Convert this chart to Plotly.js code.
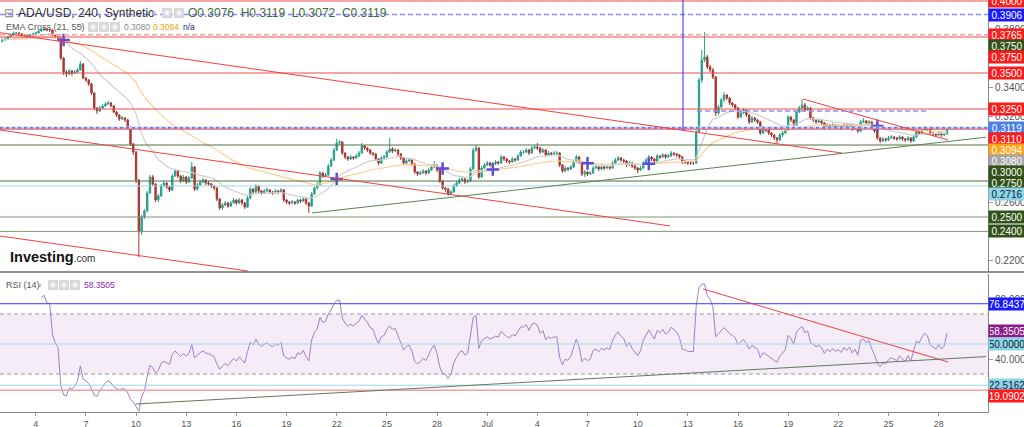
<!DOCTYPE html>
<html><head><meta charset="utf-8">
<script src="https://cdn.plot.ly/plotly-3.0.1.min.js"></script>
<style>html,body{margin:0;padding:0;background:#fff;overflow:hidden}#chart{width:1024px;height:427px}</style>
</head><body><div id="chart"></div>
<script>
// ---------------- DATA (ADA/USD, 4h candles) ----------------
const startTime = Date.UTC(2023, 5, 2, 0, 0, 0);   // first candle: 2 Jun 2023 00:00
const barHours = 4;
const firstOpen = 0.3720;
const closes = [
0.3729,0.3736,0.3750,0.3764,0.3778,0.3778,0.3771,0.3764,0.3764,0.3757,
0.3764,0.3771,0.3778,0.3792,0.3799,0.3806,0.3799,0.3799,0.3764,0.3750,
0.3743,0.3604,0.3507,0.3493,0.3514,0.3500,0.3507,0.3521,0.3563,0.3465,
0.3451,0.3424,0.3361,0.3257,0.3236,0.3257,0.3271,0.3285,0.3292,0.3271,
0.3229,0.3208,0.3181,0.3188,0.3174,0.3125,0.3007,0.2951,0.2757,0.2396,
0.2500,0.2542,0.2667,0.2778,0.2729,0.2618,0.2646,0.2715,0.2736,0.2708,
0.2688,0.2785,0.2819,0.2785,0.2750,0.2778,0.2743,0.2771,0.2847,0.2694,
0.2722,0.2743,0.2757,0.2736,0.2729,0.2715,0.2701,0.2625,0.2563,0.2583,
0.2597,0.2576,0.2597,0.2618,0.2597,0.2618,0.2597,0.2569,0.2632,0.2694,
0.2674,0.2715,0.2681,0.2667,0.2681,0.2688,0.2674,0.2667,0.2681,0.2674,
0.2688,0.2618,0.2604,0.2597,0.2604,0.2597,0.2618,0.2611,0.2625,0.2597,
0.2576,0.2660,0.2701,0.2722,0.2806,0.2785,0.2792,0.2854,0.2896,0.2965,
0.3014,0.3021,0.2944,0.2917,0.2903,0.2917,0.2910,0.2924,0.2944,0.2993,
0.2979,0.2965,0.2944,0.2938,0.2903,0.2875,0.2910,0.2917,0.2951,0.2972,
0.2958,0.2965,0.2938,0.2910,0.2875,0.2889,0.2896,0.2868,0.2813,0.2799,
0.2806,0.2819,0.2806,0.2826,0.2847,0.2861,0.2826,0.2750,0.2701,0.2694,
0.2660,0.2674,0.2715,0.2736,0.2757,0.2764,0.2743,0.2750,0.2833,0.2965,
0.2979,0.2778,0.2840,0.2861,0.2875,0.2861,0.2868,0.2882,0.2875,0.2917,
0.2903,0.2889,0.2882,0.2903,0.2896,0.2924,0.2951,0.2951,0.2965,0.2944,
0.2979,0.2986,0.2979,0.2951,0.2965,0.2931,0.2944,0.2938,0.2944,0.2944,
0.2861,0.2819,0.2840,0.2833,0.2847,0.2882,0.2917,0.2882,0.2799,0.2813,
0.2799,0.2806,0.2840,0.2847,0.2833,0.2847,0.2840,0.2847,0.2840,0.2875,
0.2896,0.2910,0.2896,0.2889,0.2861,0.2875,0.2854,0.2840,0.2826,0.2840,
0.2875,0.2896,0.2917,0.2903,0.2889,0.2924,0.2917,0.2931,0.2917,0.2924,
0.2944,0.2938,0.2931,0.2917,0.2882,0.2882,0.2875,0.2875,0.2875,0.3090,
0.3451,0.3590,0.3611,0.3542,0.3521,0.3472,0.3222,0.3264,0.3313,0.3347,
0.3326,0.3292,0.3278,0.3257,0.3194,0.3222,0.3243,0.3208,0.3160,0.3188,
0.3174,0.3160,0.3083,0.3118,0.3104,0.3083,0.3069,0.3049,0.3035,0.3069,
0.3083,0.3104,0.3194,0.3174,0.3139,0.3229,0.3257,0.3278,0.3243,0.3257,
0.3188,0.3174,0.3160,0.3167,0.3153,0.3118,0.3139,0.3125,0.3139,0.3125,
0.3132,0.3118,0.3139,0.3125,0.3139,0.3111,0.3125,0.3097,0.3160,0.3167,
0.3153,0.3160,0.3125,0.3097,0.3049,0.3028,0.3042,0.3035,0.3049,0.3056,
0.3049,0.3042,0.3056,0.3042,0.3035,0.3049,0.3028,0.3056,0.3090,0.3083,
0.3104,0.3118,0.3111,0.3083,0.3076,0.3069,0.3083,0.3069,0.3076,0.3119];
const highs = [
0.3741,0.3745,0.3757,0.3771,0.3788,0.3785,0.3784,0.3778,0.3772,0.3770,
0.3771,0.3780,0.3786,0.3800,0.3808,0.3818,0.3812,0.3806,0.3803,0.3771,
0.3757,0.3750,0.3611,0.3521,0.3528,0.3521,0.3521,0.3535,0.3583,0.3569,
0.3472,0.3458,0.3431,0.3368,0.3264,0.3271,0.3285,0.3299,0.3306,0.3299,
0.3278,0.3236,0.3215,0.3201,0.3194,0.3181,0.3132,0.3014,0.2958,0.2764,
0.2514,0.2556,0.2681,0.2792,0.2792,0.2736,0.2660,0.2729,0.2750,0.2743,
0.2715,0.2799,0.2833,0.2826,0.2792,0.2792,0.2785,0.2785,0.2882,0.2854,
0.2736,0.2757,0.2771,0.2764,0.2750,0.2736,0.2722,0.2708,0.2632,0.2597,
0.2611,0.2604,0.2611,0.2632,0.2625,0.2632,0.2625,0.2604,0.2646,0.2708,
0.2701,0.2729,0.2722,0.2688,0.2694,0.2701,0.2694,0.2681,0.2694,0.2688,
0.2701,0.2694,0.2625,0.2611,0.2618,0.2611,0.2625,0.2625,0.2639,0.2632,
0.2604,0.2674,0.2715,0.2743,0.2820,0.2813,0.2806,0.2868,0.2910,0.2979,
0.3042,0.3035,0.3028,0.2951,0.2924,0.2931,0.2924,0.2938,0.2958,0.3014,
0.3000,0.2986,0.2972,0.2951,0.2944,0.2910,0.2924,0.2931,0.2965,0.3049,
0.2986,0.2979,0.2972,0.2944,0.2917,0.2903,0.2910,0.2903,0.2875,0.2820,
0.2820,0.2833,0.2826,0.2840,0.2861,0.2889,0.2868,0.2833,0.2757,0.2708,
0.2701,0.2688,0.2729,0.2750,0.2771,0.2778,0.2771,0.2764,0.2847,0.2979,
0.3000,0.2986,0.2854,0.2875,0.2889,0.2882,0.2882,0.2896,0.2889,0.2931,
0.2924,0.2910,0.2896,0.2917,0.2910,0.2938,0.2965,0.2965,0.2979,0.2972,
0.2993,0.3000,0.3014,0.2986,0.2979,0.2972,0.2958,0.2951,0.2958,0.2958,
0.2951,0.2868,0.2854,0.2847,0.2861,0.2896,0.2931,0.2924,0.2889,0.2826,
0.2820,0.2820,0.2854,0.2861,0.2854,0.2861,0.2854,0.2861,0.2854,0.2889,
0.2910,0.2924,0.2917,0.2903,0.2896,0.2889,0.2882,0.2861,0.2847,0.2854,
0.2889,0.2910,0.2931,0.2924,0.2910,0.2938,0.2931,0.2944,0.2938,0.2938,
0.2958,0.2951,0.2944,0.2938,0.2924,0.2896,0.2889,0.2889,0.2889,0.3104,
0.3465,0.3660,0.3785,0.3625,0.3556,0.3535,0.3479,0.3278,0.3326,0.3368,
0.3354,0.3333,0.3299,0.3285,0.3264,0.3236,0.3257,0.3250,0.3215,0.3201,
0.3194,0.3181,0.3167,0.3132,0.3125,0.3111,0.3090,0.3076,0.3056,0.3083,
0.3097,0.3118,0.3208,0.3201,0.3181,0.3243,0.3271,0.3319,0.3292,0.3271,
0.3264,0.3194,0.3181,0.3181,0.3174,0.3160,0.3153,0.3146,0.3153,0.3146,
0.3146,0.3139,0.3153,0.3146,0.3153,0.3146,0.3139,0.3132,0.3174,0.3188,
0.3174,0.3174,0.3167,0.3132,0.3104,0.3056,0.3056,0.3049,0.3063,0.3069,
0.3063,0.3056,0.3069,0.3063,0.3049,0.3063,0.3056,0.3069,0.3104,0.3104,
0.3118,0.3132,0.3125,0.3118,0.3090,0.3083,0.3097,0.3090,0.3083,0.3119];
const lows = [
0.3712,0.3722,0.3731,0.3745,0.3757,0.3768,0.3764,0.3757,0.3752,0.3748,
0.3750,0.3757,0.3765,0.3772,0.3786,0.3792,0.3790,0.3785,0.3757,0.3740,
0.3731,0.3590,0.3486,0.3472,0.3486,0.3479,0.3493,0.3500,0.3514,0.3458,
0.3438,0.3410,0.3347,0.3243,0.3215,0.3229,0.3250,0.3264,0.3278,0.3264,
0.3222,0.3194,0.3167,0.3174,0.3160,0.3111,0.2993,0.2931,0.2736,0.2222,
0.2375,0.2486,0.2535,0.2660,0.2715,0.2604,0.2604,0.2639,0.2708,0.2694,
0.2674,0.2681,0.2778,0.2771,0.2736,0.2743,0.2729,0.2736,0.2764,0.2681,
0.2681,0.2715,0.2736,0.2722,0.2715,0.2701,0.2688,0.2611,0.2549,0.2549,
0.2576,0.2563,0.2569,0.2590,0.2583,0.2590,0.2583,0.2556,0.2563,0.2625,
0.2660,0.2667,0.2667,0.2653,0.2660,0.2674,0.2660,0.2653,0.2660,0.2660,
0.2667,0.2604,0.2590,0.2583,0.2590,0.2583,0.2590,0.2597,0.2604,0.2583,
0.2528,0.2569,0.2653,0.2694,0.2715,0.2771,0.2778,0.2785,0.2847,0.2889,
0.2958,0.3000,0.2931,0.2903,0.2889,0.2896,0.2896,0.2903,0.2917,0.2938,
0.2965,0.2951,0.2931,0.2924,0.2889,0.2861,0.2868,0.2903,0.2910,0.2944,
0.2944,0.2951,0.2924,0.2896,0.2861,0.2868,0.2882,0.2854,0.2799,0.2785,
0.2792,0.2799,0.2792,0.2799,0.2819,0.2840,0.2813,0.2736,0.2688,0.2674,
0.2646,0.2653,0.2667,0.2708,0.2729,0.2750,0.2729,0.2736,0.2743,0.2826,
0.2951,0.2764,0.2771,0.2833,0.2854,0.2847,0.2854,0.2861,0.2861,0.2868,
0.2889,0.2875,0.2868,0.2875,0.2882,0.2889,0.2917,0.2938,0.2944,0.2931,
0.2938,0.2972,0.2965,0.2938,0.2944,0.2917,0.2924,0.2924,0.2931,0.2931,
0.2847,0.2806,0.2813,0.2819,0.2826,0.2840,0.2875,0.2868,0.2785,0.2778,
0.2785,0.2792,0.2799,0.2833,0.2819,0.2826,0.2826,0.2833,0.2826,0.2833,
0.2868,0.2889,0.2882,0.2875,0.2847,0.2854,0.2840,0.2826,0.2806,0.2819,
0.2833,0.2868,0.2889,0.2889,0.2875,0.2882,0.2903,0.2910,0.2903,0.2910,
0.2917,0.2924,0.2917,0.2903,0.2868,0.2868,0.2861,0.2861,0.2861,0.2868,
0.3083,0.3431,0.3576,0.3528,0.3507,0.3458,0.3201,0.3208,0.3257,0.3299,
0.3313,0.3278,0.3264,0.3243,0.3181,0.3188,0.3215,0.3194,0.3146,0.3153,
0.3160,0.3146,0.3069,0.3076,0.3090,0.3069,0.3056,0.3035,0.3014,0.3028,
0.3056,0.3076,0.3097,0.3160,0.3125,0.3132,0.3222,0.3250,0.3229,0.3236,
0.3174,0.3160,0.3146,0.3153,0.3139,0.3104,0.3111,0.3111,0.3118,0.3111,
0.3118,0.3104,0.3111,0.3111,0.3118,0.3097,0.3104,0.3083,0.3090,0.3153,
0.3139,0.3146,0.3111,0.3083,0.3035,0.3014,0.3021,0.3021,0.3028,0.3042,
0.3035,0.3028,0.3035,0.3028,0.3021,0.3028,0.3014,0.3021,0.3049,0.3069,
0.3076,0.3097,0.3097,0.3069,0.3063,0.3056,0.3063,0.3056,0.3063,0.3072];

// x-axis ticks
const xTickDates = ['2023-06-04','2023-06-07','2023-06-10','2023-06-13','2023-06-16','2023-06-19','2023-06-22','2023-06-25','2023-06-28','2023-07-01','2023-07-04','2023-07-07','2023-07-10','2023-07-13','2023-07-16','2023-07-19','2023-07-22','2023-07-25','2023-07-28'];
const xTickText = ['4','7','10','13','16','19','22','25','28','Jul','4','7','10','13','16','19','22','25','28'];
const priceTicks = [0.22,0.24,0.26,0.28,0.30,0.32,0.34,0.36,0.38,0.40];
const rsiTicks = [20,40,60,80];

// horizontal price levels drawn on the chart
const levelValues = [0.4000,0.3906,0.3765,0.3750,0.3500,0.3250,0.3110,0.3119,0.3000,0.2750,0.2716,0.2500,0.2400];
const rsiLevelValues = [76.8437,50,22.5162,19.0902];
// right-axis value tags
const tagValues = [0.4000,0.3906,0.3765,0.3750,0.3750,0.3500,0.3250,0.3119,0.3110,0.3094,0.3080,0.3000,0.2750,0.2716,0.2500,0.2400];
const rsiTagValues = [76.8437,58.3505,50.0000,22.5162,19.0902];

// drawn trend lines (date, price) endpoints
const trendStartDates = ['2023-06-01 20:42','2023-06-01 20:42','2023-06-01 20:42','2023-07-19 21:22','2023-06-20 12:29'];
const trendStartPrices = [0.3780,0.3104,0.2368,0.3319,0.2528];
const trendEndDates   = ['2023-07-22 05:17','2023-07-11 22:20','2023-06-16 16:35','2023-07-28 13:26','2023-07-30 20:00'];
const trendEndPrices  = [0.2944,0.2438,0.2125,0.3035,0.3054];
const rsiTrendStartDates = ['2023-07-13 21:50','2023-06-10 00:00'];
const rsiTrendStartValues = [86.7,10];
const rsiTrendEndDates = ['2023-07-28 13:26','2023-07-30 20:00'];
const rsiTrendEndValues = [38,41.6];
const vlineDate = '2023-07-12 17:02';
const vlinePrices = [0.4007,0.3104];
const shortDashDates = ['2023-07-13 13:12','2023-07-27 07:12'];
const shortDashPrice = 0.3236;

// ---------------- STYLE / LAYOUT ----------------
const FONT = 'Liberation Sans, Arial, sans-serif';
const W = 1024, H = 427, MR = 36, MB = 15;
const PW = W - MR, PH = H - MB;             // plot area 988 x 412
const mainBot = 272, rsiTop = 274;
const yMainRange = [0.2118056, 0.4006944];
const yRsiRange = [4.6667, 96.6667];
const xRange = ['2023-06-01 20:42', '2023-07-30 22:50'];

const levelStyles = [
 ['#f04a4a',1,'solid'],['#8c8cff',1.5,'5px,3px'],['#f5a0a0',1.5,'5px,3px'],['#f04a4a',1,'solid'],
 ['#f04a4a',1,'solid'],['#f04a4a',1,'solid'],['#f04a4a',1,'solid'],['#3f5ff2',1.2,'dot'],
 ['#557040',1,'solid'],['#557040',1,'solid'],['#9fd9ea',1,'solid'],['#7a9a68',1,'solid'],['#7a9a68',1,'solid']];
const rsiLevelStyles = [['#3a3aff',1,'solid'],['#9fd9ea',1,'solid'],['#9fd9ea',1,'solid'],['#f4a0a0',1.5,'solid']];
const tagBg = ['#ff1a1a','#1a1aff','#ff1a1a','#33521a','#ff1a1a','#ff1a1a','#ff1a1a','#4d80e6','#ff1a1a','#ffa31a','#a6a6a6','#33521a','#33521a','#8ed4e8','#33521a','#33521a'];
const tagFg = ['#fff','#fff','#fff','#fff','#fff','#fff','#fff','#fff','#fff','#fff','#fff','#fff','#fff','#123','#fff','#fff'];
const rsiTagBg = ['#1a1aff','#8b1a8b','#8ed4e8','#8ed4e8','#ff1a1a'];
const rsiTagFg = ['#fff','#fff','#123','#123','#fff'];
const trendColors = ['#f04040','#f04040','#f04040','#f04040','#5f8050'];

// ---------------- BUILD ----------------
const n = closes.length;
const pad = v => String(v).padStart(2,'0');
const times = closes.map((_, i) => {
  const d = new Date(startTime + i * barHours * 3600e3);
  return d.getUTCFullYear()+'-'+pad(d.getUTCMonth()+1)+'-'+pad(d.getUTCDate())+' '+pad(d.getUTCHours())+':00';
});
const opens = closes.map((c, i) => i === 0 ? firstOpen : closes[i-1]);
const hi = highs.map((h, i) => Math.max(h, opens[i], closes[i]));
const lo = lows.map((l, i) => Math.min(l, opens[i], closes[i]));

function ema(src, len){ const k = 2/(len+1); const out=[]; src.forEach((v,i)=>out.push(i===0?v:out[i-1]+(v-out[i-1])*k)); return out; }
const ema21 = ema(closes, 21), ema55 = ema(closes, 55);
const crossX = [], crossY = [];
for (let i = 5; i < n; i++) {
  const a = Math.sign(ema21[i]-ema55[i]), b = Math.sign(ema21[i-1]-ema55[i-1]);
  if (a !== b && a !== 0) { crossX.push(times[i]); crossY.push(ema21[i]); }
}
// RSI(14), Wilder
const rsiX = [], rsiY = [];
let ag = 0, al = 0;
for (let i = 1; i < n; i++) {
  const d = closes[i]-closes[i-1], g = Math.max(d,0), l = Math.max(-d,0);
  if (i <= 14) { ag += g/14; al += l/14; } else { ag = (ag*13+g)/14; al = (al*13+l)/14; }
  if (i >= 14) { rsiX.push(times[i]); rsiY.push(al === 0 ? 100 : 100 - 100/(1+ag/al)); }
}

const traces = [
  {type:'scatter', mode:'lines', x:times, y:ema55, line:{color:'#ffcf94', width:1.2}, hoverinfo:'skip', xaxis:'x', yaxis:'y'},
  {type:'scatter', mode:'lines', x:times, y:ema21, line:{color:'#cfcfcf', width:1.2}, hoverinfo:'skip', xaxis:'x', yaxis:'y'},
  {type:'candlestick', x:times, open:opens, high:hi, low:lo, close:closes,
   increasing:{line:{color:'#26a08b', width:1}, fillcolor:'#26a08b'},
   decreasing:{line:{color:'#a83630', width:1}, fillcolor:'#a83630'},
   whiskerwidth:0, hoverinfo:'skip', xaxis:'x', yaxis:'y'},
  {type:'scatter', mode:'markers', x:crossX, y:crossY, marker:{symbol:'cross-thin', size:9, line:{width:2.5, color:'#5c4fd1'}}, hoverinfo:'skip', xaxis:'x', yaxis:'y'},
  {type:'scatter', mode:'lines', x:rsiX, y:rsiY, line:{color:'#a77bca', width:1}, hoverinfo:'skip', xaxis:'x', yaxis:'y2'}
];

const shapes = [];
// RSI band
shapes.push({type:'rect', xref:'paper', yref:'y2', x0:0, x1:1, y0:30, y1:70, fillcolor:'rgba(170,110,195,0.13)', line:{width:0}, layer:'below'});
[70,30].forEach(v => shapes.push({type:'line', xref:'paper', yref:'y2', x0:0, x1:1, y0:v, y1:v, line:{color:'#9a9a9a', width:1, dash:'4px,3px'}}));
rsiLevelValues.forEach((v,i) => shapes.push({type:'line', xref:'paper', yref:'y2', x0:0, x1:1, y0:v, y1:v, line:{color:rsiLevelStyles[i][0], width:rsiLevelStyles[i][1], dash:rsiLevelStyles[i][2]}}));
// last-price halo
shapes.push({type:'line', xref:'paper', yref:'y', x0:0, x1:1, y0:0.3119, y1:0.3119, line:{color:'#c9d2fa', width:2.5}});
levelValues.forEach((v,i) => shapes.push({type:'line', xref:'paper', yref:'y', x0:0, x1:1, y0:v, y1:v, line:{color:levelStyles[i][0], width:levelStyles[i][1], dash:levelStyles[i][2]}}));
trendStartDates.forEach((d,i) => shapes.push({type:'line', xref:'x', yref:'y', x0:d, x1:trendEndDates[i], y0:trendStartPrices[i], y1:trendEndPrices[i], line:{color:trendColors[i], width:1}}));
rsiTrendStartDates.forEach((d,i) => shapes.push({type:'line', xref:'x', yref:'y2', x0:d, x1:rsiTrendEndDates[i], y0:rsiTrendStartValues[i], y1:rsiTrendEndValues[i], line:{color:i===0?'#f04040':'#66785c', width:1}}));
shapes.push({type:'line', xref:'x', yref:'y', x0:vlineDate, x1:vlineDate, y0:vlinePrices[0], y1:vlinePrices[1], line:{color:'#2a2aff', width:1}});
shapes.push({type:'line', xref:'x', yref:'y', x0:shortDashDates[0], x1:shortDashDates[1], y0:shortDashPrice, y1:shortDashPrice, line:{color:'#8c8cff', width:1.5, dash:'5px,3px'}});
// panel separator
shapes.push({type:'line', xref:'paper', yref:'paper', x0:0, x1:W/PW, y0:1-mainBot/PH, y1:1-mainBot/PH, line:{color:'#6e6e6e', width:1.5}});

// helpers
const px = x => x/PW, py = y => 1 - y/PH;
const pyMain = v => (yMainRange[1]-v)/(yMainRange[1]-yMainRange[0])*mainBot;
const pyRsi = v => rsiTop + (yRsiRange[1]-v)/(yRsiRange[1]-yRsiRange[0])*(PH-rsiTop);
function stack(vals, f, gap){ let prev=-1e9; return vals.map(v => { let p=f(v); if (p < prev+gap) p = prev+gap; prev = p; return p; }); }

const ann = [];
function tag(p, text, bg, fg){
  ann.push({xref:'paper', yref:'paper', x:1, y:py(p), xanchor:'left', yanchor:'middle', text:text, showarrow:false,
    font:{family:FONT, size:10, color:fg}, bgcolor:bg, width:34, height:10, borderpad:1, align:'center'});
}
stack(tagValues, pyMain, 11).forEach((p,i) => tag(p, tagValues[i].toFixed(4), tagBg[i], tagFg[i]));
stack(rsiTagValues, pyRsi, 11).forEach((p,i) => tag(p, rsiTagValues[i].toFixed(4), rsiTagBg[i], rsiTagFg[i]));

function txt(x, y, text, size, color, extra){
  ann.push(Object.assign({xref:'paper', yref:'paper', x:px(x), y:py(y), xanchor:'left', yanchor:'middle', text:text, showarrow:false,
    font:{family:FONT, size:size, color:color}, borderpad:0}, extra||{}));
}
function icon(x, y){
  shapes.push({type:'rect', xref:'paper', yref:'paper', x0:px(x), x1:px(x+10), y0:py(y+5), y1:py(y-5), fillcolor:'#d8d8d8', line:{width:0}});
  shapes.push({type:'circle', xref:'paper', yref:'paper', x0:px(x+2.5), x1:px(x+7.5), y0:py(y+2.5), y1:py(y-2.5), fillcolor:'#f4f4f4', line:{width:0}});
}
// header
txt(3, 13, '⊟', 12, '#888');
txt(17, 13, 'ADA/USD, 240, Synthetic', 12, '#333');
txt(150, 13, '▾', 9, '#b0b0b0');
icon(162, 13); icon(174, 13);
txt(187, 13, 'O0.3076 &nbsp;H0.3119 &nbsp;L0.3072 &nbsp;C0.3119', 12, '#3f6a3f');
txt(5, 27, 'EMA Cross (21, 55)', 9, '#555');
txt(78, 27, '▾', 7, '#b0b0b0');
icon(88, 27); icon(99, 27); icon(110, 27);
txt(123, 27, '0.3080', 8.5, '#8a8a8a');
txt(152, 27, '0.3094', 8.5, '#f5a000');
txt(182, 27, 'n/a', 8.5, '#1a237e');
txt(5, 285, 'RSI (14)', 9, '#555');
txt(37, 285, '▾', 7, '#b0b0b0');
icon(48, 285); icon(59, 285); icon(70, 285);
txt(83, 285, '58.3505', 8.5, '#8e24aa');
txt(9, 257, '<b>Investing</b><span style="font-size:10px;color:#333">.com</span>', 14.5, '#111');

const layout = {
  width: W, height: H, margin:{l:0, r:MR, t:0, b:MB, pad:0},
  paper_bgcolor:'#fff', plot_bgcolor:'#fff', showlegend:false,
  font:{family:FONT, size:10, color:'#555'},
  xaxis:{type:'date', range:xRange, domain:[0,1], anchor:'y2', tickvals:xTickDates, ticktext:xTickText,
    tickfont:{size:9, color:'#555', family:FONT}, ticks:'outside', ticklen:3, tickcolor:'#999',
    showline:true, linecolor:'#888', linewidth:1, showgrid:false, zeroline:false, rangeslider:{visible:false}, fixedrange:true},
  yaxis:{domain:[1-mainBot/PH, 1], range:yMainRange, side:'right', anchor:'x', tickvals:priceTicks, tickformat:'.4f',
    tickfont:{size:10, color:'#555', family:FONT}, ticks:'outside', ticklen:4, tickcolor:'#999',
    showline:true, linecolor:'#888', showgrid:false, zeroline:false, fixedrange:true},
  yaxis2:{domain:[0, 1-rsiTop/PH], range:yRsiRange, side:'right', anchor:'x', tickvals:rsiTicks, tickformat:'.4f',
    tickfont:{size:10, color:'#555', family:FONT}, ticks:'outside', ticklen:4, tickcolor:'#999',
    showline:true, linecolor:'#888', showgrid:false, zeroline:false, fixedrange:true},
  shapes: shapes, annotations: ann
};
Plotly.newPlot('chart', traces, layout, {staticPlot:true, displayModeBar:false});
</script>
</body></html>
